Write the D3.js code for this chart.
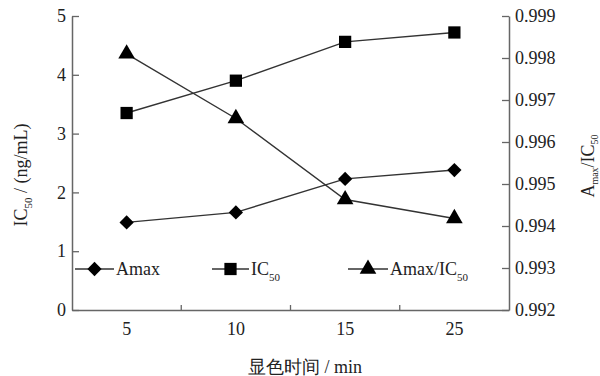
<!DOCTYPE html>
<html>
<head>
<meta charset="utf-8">
<script src="https://cdn.jsdelivr.net/npm/d3@7"></script>
<style>
  html, body { margin: 0; padding: 0; background: #fff; }
  svg { display: block; }
  text { font-family: "Liberation Serif", "Times New Roman", serif; fill: #222; }
</style>
</head>
<body>
<svg id="chart" width="600" height="376"></svg>
<script>
// Colour development time (min)
const times = ["5", "10", "15", "25"];
// Amax and IC50 on the left axis, Amax/IC50 on the right axis
const amax = [1.49, 1.66, 2.23, 2.38];
const ic50 = [3.35, 3.90, 4.56, 4.72];
const ratio = [0.99810, 0.99656, 0.99463, 0.99418];
const leftTicks = [0, 1, 2, 3, 4, 5];
const rightTicks = [0.992, 0.993, 0.994, 0.995, 0.996, 0.997, 0.998, 0.999];

const svg = d3.select("#chart");
const m = { left: 72, right: 509, top: 16, bottom: 310 };
const axisColor = "#666";
const lineColor = "#333";
const fs = 18;

const x = d3.scaleBand().domain(times).range([m.left, m.right]);
const yL = d3.scaleLinear().domain([0, 5]).range([m.bottom, m.top]);
const yR = d3.scaleLinear().domain([0.992, 0.999]).range([m.bottom, m.top]);

// Axes: ticks point into the plot
const gL = svg.append("g").attr("transform", `translate(${m.left},0)`)
  .call(d3.axisLeft(yL).tickValues(leftTicks).tickSize(-7).tickPadding(6)
    .tickFormat(d3.format("d")).tickSizeOuter(0));
const gR = svg.append("g").attr("transform", `translate(${m.right},0)`)
  .call(d3.axisRight(yR).tickValues(rightTicks).tickSize(-7).tickPadding(6)
    .tickFormat(d3.format(".3f")).tickSizeOuter(0));
const gB = svg.append("g").attr("transform", `translate(0,${m.bottom})`)
  .call(d3.axisBottom(x).tickSize(0).tickPadding(12).tickSizeOuter(0));

// Category separators on the bottom axis
svg.append("g").selectAll("line")
  .data(times.slice(1))
  .join("line")
  .attr("x1", d => x(d)).attr("x2", d => x(d))
  .attr("y1", m.bottom).attr("y2", m.bottom - 5)
  .attr("stroke", axisColor).attr("stroke-width", 1.3);

[gL, gR, gB].forEach(g => {
  g.select(".domain").attr("stroke", axisColor).attr("stroke-width", 1.5);
  g.selectAll(".tick line").attr("stroke", axisColor).attr("stroke-width", 1.3);
  g.selectAll(".tick text").attr("font-size", fs)
    .attr("font-family", "Liberation Serif, serif").attr("fill", "#222");
});

const cx = d => x(d) + x.bandwidth() / 2;

const symDiamond = d3.symbol().type(d3.symbolDiamond2).size(130)();
const symSquare = d3.symbol().type(d3.symbolSquare).size(150)();
const symTriangle = d3.symbol().type(d3.symbolTriangle).size(120)();

function series(values, y, sym) {
  const pts = times.map((t, i) => [cx(t), y(values[i])]);
  svg.append("path")
    .attr("d", d3.line()(pts))
    .attr("fill", "none").attr("stroke", lineColor).attr("stroke-width", 1.4);
  svg.append("g").selectAll("path")
    .data(pts)
    .join("path")
    .attr("transform", d => `translate(${d[0]},${d[1]})`)
    .attr("d", sym)
    .attr("fill", "#000");
}
series(amax, yL, symDiamond);
series(ic50, yL, symSquare);
series(ratio, yR, symTriangle);

// Legend inside the plot area
const legendY = 269;
const legend = [
  { x0: 75, x1: 114, sym: symDiamond, label: ["Amax"] },
  { x0: 212, x1: 249, sym: symSquare, label: ["IC", "50"] },
  { x0: 348, x1: 388, sym: symTriangle, label: ["Amax/IC", "50"] }
];
legend.forEach(l => {
  svg.append("line").attr("x1", l.x0).attr("x2", l.x1)
    .attr("y1", legendY).attr("y2", legendY)
    .attr("stroke", lineColor).attr("stroke-width", 1.4);
  svg.append("path").attr("d", l.sym)
    .attr("transform", `translate(${(l.x0 + l.x1) / 2},${legendY})`).attr("fill", "#000");
  const t = svg.append("text").attr("x", l.x1 + 2).attr("y", legendY + 6).attr("font-size", fs);
  t.append("tspan").text(l.label[0]);
  if (l.label[1]) t.append("tspan").attr("dy", 6).attr("font-size", 11).text(l.label[1]);
});

// Axis titles
const tl = svg.append("text")
  .attr("transform", "translate(27,175) rotate(-90)")
  .attr("text-anchor", "middle").attr("font-size", fs);
tl.append("tspan").text("IC");
tl.append("tspan").attr("dy", 5).attr("font-size", 11).text("50");
tl.append("tspan").attr("dy", -5).text(" / (ng/mL)");

const tr = svg.append("text")
  .attr("transform", "translate(594,166) rotate(-90)")
  .attr("text-anchor", "middle").attr("font-size", fs);
tr.append("tspan").text("A");
tr.append("tspan").attr("dy", 4).attr("font-size", 10).text("max");
tr.append("tspan").attr("dy", -4).text("/IC");
tr.append("tspan").attr("dy", 4).attr("font-size", 10).text("50");

svg.append("text")
  .attr("x", 305).attr("y", 373)
  .attr("text-anchor", "middle").attr("font-size", fs)
  .attr("font-family", "'Noto Sans CJK SC', 'Liberation Serif', serif")
  .text("显色时间 / min");
</script>
</body>
</html>
